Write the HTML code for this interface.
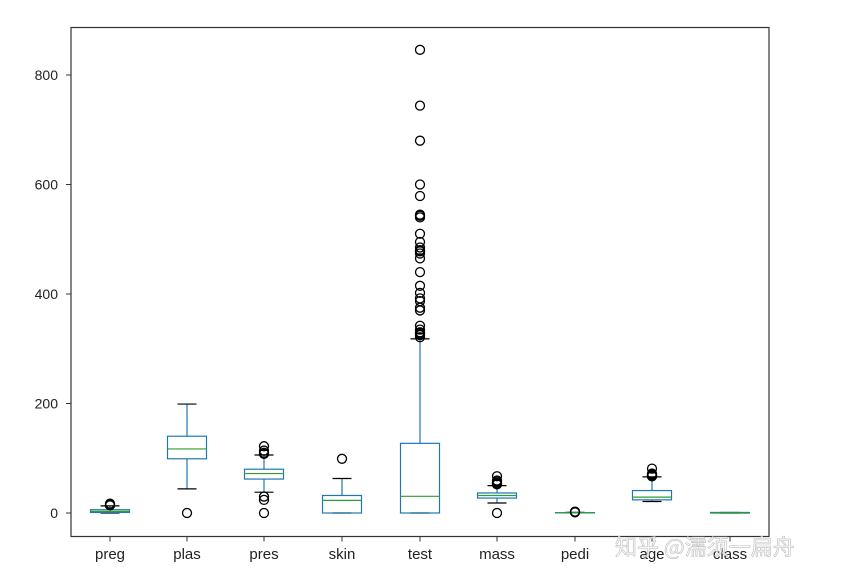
<!DOCTYPE html>
<html><head><meta charset="utf-8"><style>
body{margin:0;background:#fff;}
svg{display:block;font-family:"Liberation Sans","DejaVu Sans",sans-serif;}
</style></head><body>
<svg id="s" width="841" height="580" viewBox="0 0 841 580">
<rect x="0" y="0" width="841" height="580" fill="#fff"/>
<g id="plot"></g>
<rect x="71" y="27.5" width="698" height="509" fill="none" stroke="#333" stroke-width="1.2"/>
<g font-size="14" fill="#222" text-anchor="end">
<text x="58" y="518">0</text>
<text x="58" y="408.5">200</text>
<text x="58" y="299">400</text>
<text x="58" y="189.5">600</text>
<text x="58" y="80">800</text>
</g>
<g font-size="15" fill="#222" text-anchor="middle">
<text x="110" y="559">preg</text>
<text x="187" y="559">plas</text>
<text x="264" y="559">pres</text>
<text x="342" y="559">skin</text>
<text x="420" y="559">test</text>
<text x="497" y="559">mass</text>
<text x="575" y="559">pedi</text>
<text x="652" y="559">age</text>
<text x="730" y="559">class</text>
</g>
<text x="615" y="555" font-size="22" fill="#fff" fill-opacity="0.75" stroke="#bbb" stroke-width="0.6" font-family="'Noto Sans CJK SC',sans-serif">知乎 @濡须一扁舟</text>
</svg>
<script>
var g=document.getElementById('plot'),ns='http://www.w3.org/2000/svg';
function Y(v){return 513-v*0.5475;}
function el(t,a){var e=document.createElementNS(ns,t);for(var k in a)e.setAttribute(k,a[k]);g.appendChild(e);}
function line(x1,y1,x2,y2,c,w){el('line',{x1:x1,y1:y1,x2:x2,y2:y2,stroke:c,'stroke-width':w||1.2});}
var B='#1f77b4',G='#2ca02c';
var d=[
[110,1,3,6,0,13,[14,15,17]],
[187,99,117,140.25,44,199,[0]],
[264,62,72,80,38,106,[0,24,30,108,110,114,122]],
[342,0,23,32,0,63,[99]],
[420,0,30.5,127.25,0,318,[846,744,680,600,579,545,543,540,510,495,485,480,478,474,465,440,415,402,392,387,375,370,342,335,330,328,326,325,321]],
[497,27.3,32,36.6,18.2,50,[0,52.3,53.2,55,57.3,59.4,67.1]],
[575,0.24,0.37,0.63,0.08,1.2,[1.3,1.6,2.0,2.42]],
[652,24,29,41,21,66,[67,68,69,70,72,81]],
[730,0,0,1,0,1,[]]];
d.forEach(function(r){var x=r[0],h=19.5,c=9.5;
line(x,Y(r[3]),x,Y(r[5]),B);line(x,Y(r[1]),x,Y(r[4]),B);
line(x-c,Y(r[5]),x+c,Y(r[5]),'#000');line(x-c,Y(r[4]),x+c,Y(r[4]),'#000');
el('rect',{x:x-h,y:Y(r[3]),width:2*h,height:Math.max(Y(r[1])-Y(r[3]),0.01),fill:'none',stroke:B,'stroke-width':1.2});
line(x-h,Y(r[2]),x+h,Y(r[2]),G);
r[6].forEach(function(v){el('circle',{cx:x,cy:Y(v),r:4.5,fill:'none',stroke:'#000','stroke-width':1.3});});
});
[0,200,400,600,800].forEach(function(v){line(66,Y(v),71,Y(v),'#333',1);});
d.forEach(function(r){line(r[0],536.5,r[0],541.5,'#333',1);});
</script>
</body></html>
